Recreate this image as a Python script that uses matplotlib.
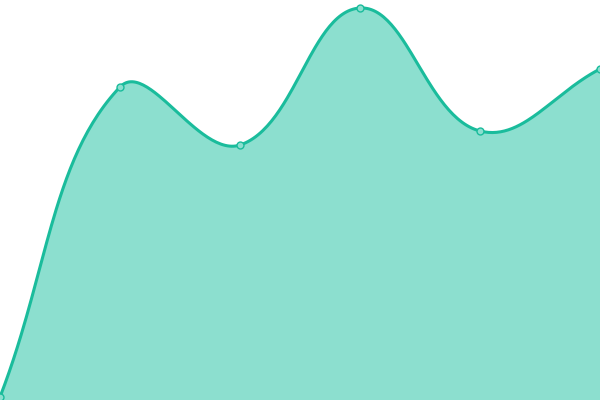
import numpy as np
import matplotlib
matplotlib.use("Agg")
import matplotlib.pyplot as plt

# data points (x positions and values)
xs = [0, 1, 2, 3, 4, 5]
values = [3, 313, 255, 392, 269, 331]

line_color = "#1abc9c"
fill_color = "#8cdfcf"

W, H = 600, 400
fig = plt.figure(figsize=(6, 4), dpi=100)
ax = fig.add_axes([0, 0, 1, 1])
ax.set_xlim(0, 5)
ax.set_ylim(0, 400)
ax.axis("off")

# chart.js style bezier spline, computed in pixel space
px = np.array(xs, dtype=float) * (W / 5)
py = np.array(values, dtype=float)
t = 0.4
n = len(px)
cps = []
for i in range(n):
    p0 = (px[max(i - 1, 0)], py[max(i - 1, 0)])
    p1 = (px[i], py[i])
    p2 = (px[min(i + 1, n - 1)], py[min(i + 1, n - 1)])
    d01 = np.hypot(p1[0] - p0[0], p1[1] - p0[1])
    d12 = np.hypot(p2[0] - p1[0], p2[1] - p1[1])
    s01 = d01 / (d01 + d12) if d01 + d12 else 0
    s12 = d12 / (d01 + d12) if d01 + d12 else 0
    fa = t * s01
    fb = t * s12
    prev_cp = (p1[0] - fa * (p2[0] - p0[0]), p1[1] - fa * (p2[1] - p0[1]))
    next_cp = (p1[0] + fb * (p2[0] - p0[0]), p1[1] + fb * (p2[1] - p0[1]))
    cps.append((prev_cp, next_cp))

cx, cy = [], []
tt = np.linspace(0, 1, 60)
for i in range(n - 1):
    a = (px[i], py[i])
    b = cps[i][1]
    c = cps[i + 1][0]
    d = (px[i + 1], py[i + 1])
    bx = (1 - tt) ** 3 * a[0] + 3 * (1 - tt) ** 2 * tt * b[0] + 3 * (1 - tt) * tt ** 2 * c[0] + tt ** 3 * d[0]
    by = (1 - tt) ** 3 * a[1] + 3 * (1 - tt) ** 2 * tt * b[1] + 3 * (1 - tt) * tt ** 2 * c[1] + tt ** 3 * d[1]
    cx.extend(bx)
    cy.extend(by)
cx = np.array(cx) / (W / 5)
cy = np.array(cy)

ax.fill_between(cx, cy, 0, color=fill_color, lw=0)
ax.plot(cx, cy, color=line_color, lw=2.2, clip_on=False)
ax.plot(xs, values, "o", ms=5, mfc=fill_color, mec=line_color, mew=1, clip_on=False)

fig.savefig("out.png", dpi=100)
